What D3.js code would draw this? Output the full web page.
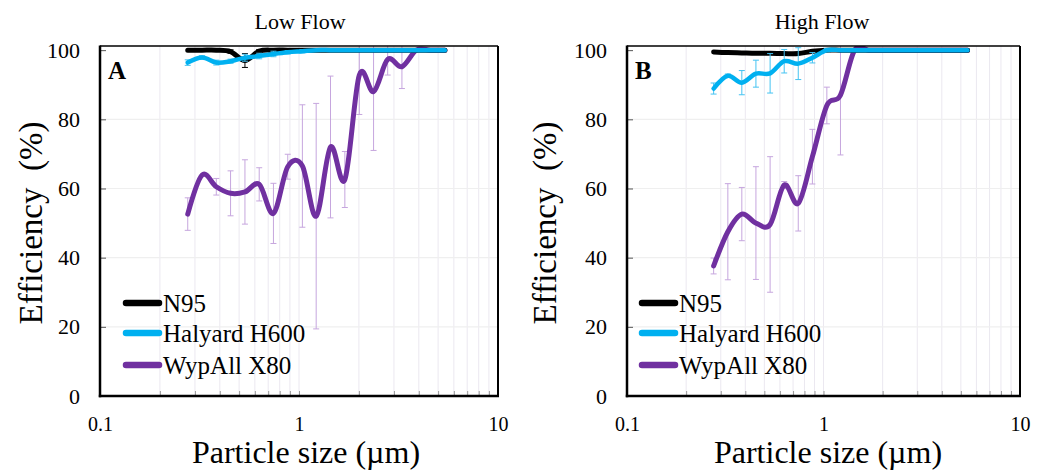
<!DOCTYPE html>
<html>
<head>
<meta charset="utf-8">
<script src="https://cdn.jsdelivr.net/npm/d3@7"></script>
<style>
  html, body { margin: 0; padding: 0; background: #fff; }
  svg, svg text { font-family: "Liberation Serif", "Times New Roman", "DejaVu Serif", serif; }
</style>
</head>
<body>
<svg id="chart" width="1046" height="470"></svg>
<script>
// ---------- DATA ----------
const sizes = [0.276, 0.326, 0.384, 0.453, 0.535, 0.631, 0.744, 0.878, 1.04, 1.22, 1.44, 1.70, 2.01, 2.37, 2.79, 3.29, 3.89, 4.58, 5.41];

const seriesNames = ["N95", "Halyard H600", "WypAll X80"];
const seriesColors = ["#000000", "#00B0F0", "#7030A0"];
const errColors = ["#000000", "#45C3F2", "#C6A6DE"];

// Low flow
const lowN95 = [100, 100, 100, 99.6, 97.0, 99.7, 100, 100, 100, 100, 100, 100, 100, 100, 100, 100, 100, 100, 100];
const lowN95Err = [0.3, 0.3, 0.3, 0.5, 2.0, 0.5, 0.2, 0, 0, 0, 0, 0, 0, 0, 0, 0, 0, 0, 0];
const lowH600 = [96.4, 97.9, 96.4, 96.8, 97.8, 98.3, 98.9, 99.4, 99.7, 100, 100, 100, 100, 100, 100, 100, 100, 100, 100];
const lowH600Err = [0.8, 0.5, 0.7, 0.6, 1.0, 0.8, 0.8, 0.5, 0.5, 0.3, 0, 0, 0, 0, 0, 0, 0, 0, 0];
const lowX80 = [52.6, 63.9, 60.5, 58.6, 59.0, 61.2, 52.8, 66.3, 66.5, 52.0, 72.0, 62.6, 92.8, 88.0, 97.3, 95.2, 100, 100, 100];
const lowX80Err = [4.7, 0, 2.4, 6.5, 9.3, 4.8, 8.7, 3.6, 17.7, 32.6, 20.5, 8.1, 11.4, 17.0, 4.5, 6.3, 0, 0, 0];

// High flow
const highN95 = [99.5, 99.3, 99.2, 99.1, 99.1, 99.0, 99.0, 99.7, 100, 100, 100, 100, 100, 100, 100, 100, 100, 100, 100];
const highN95Err = [0.3, 0.3, 0.3, 0.3, 0.3, 0.3, 0.3, 0.2, 0, 0, 0, 0, 0, 0, 0, 0, 0, 0, 0];
const highH600 = [88.9, 92.6, 90.6, 93.2, 93.3, 96.8, 96.1, 97.8, 100, 100, 100, 100, 100, 100, 100, 100, 100, 100, 100];
const highH600Err = [1.6, 0.5, 3.5, 3.9, 5.7, 3.4, 4.6, 1.5, 0.5, 0, 0, 0, 0, 0, 0, 0, 0, 0, 0];
const highX80 = [37.6, 47.5, 52.6, 50.0, 49.6, 61.0, 55.7, 69.2, 84.0, 87.0, 100, 100, 100, 100, 100, 100, 100, 100, 100];
const highX80Err = [2.3, 13.9, 7.7, 16.3, 19.6, 1.0, 8.0, 7.9, 5.3, 17.3, 0, 0, 0, 0, 0, 0, 0, 0, 0];

const xTicks = [0.1, 1, 10];
const xTickLabels = ["0.1", "1", "10"];
const xMinor = [0.2, 0.3, 0.4, 0.5, 0.6, 0.7, 0.8, 0.9, 1, 2, 3, 4, 5, 6, 7, 8, 9];
const yTicks = [0, 20, 40, 60, 80, 100];
const yGrid = [20, 40, 60, 80];

const panelTitles = ["Low Flow", "High Flow"];
const panelLetters = ["A", "B"];
const xTitle = "Particle size (\u00B5m)";
const yTitle = "Efficiency  (%)";

// ---------- LAYOUT ----------
const FONT = '"Liberation Serif", "Times New Roman", "DejaVu Serif", serif';
const panels = [
  { left: 100, right: 498, top: 46, bottom: 396, title: panelTitles[0], letter: panelLetters[0],
    series: [[lowN95, lowN95Err], [lowH600, lowH600Err], [lowX80, lowX80Err]],
    titleX: 300, xTitleX: 306, yTitleX: 31, legendX: 123 },
  { left: 627, right: 1020, top: 46, bottom: 396, title: panelTitles[1], letter: panelLetters[1],
    series: [[highN95, highN95Err], [highH600, highH600Err], [highX80, highX80Err]],
    titleX: 822, xTitleX: 828, yTitleX: 545, legendX: 639 }
];

const svg = d3.select("#chart");
const drawOrder = [2, 0, 1];
const lineWidths = [5, 4.5, 5];

panels.forEach((p, pi) => {
  const x = d3.scaleLog().domain([0.1, 10]).range([p.left, p.right]);
  const y = d3.scaleLinear().domain([0, 101.2]).range([p.bottom, p.top]);
  const g = svg.append("g").attr("font-family", FONT);

  const clipId = "clip" + pi;
  g.append("clipPath").attr("id", clipId).append("rect")
    .attr("x", p.left).attr("y", p.top).attr("width", p.right - p.left).attr("height", p.bottom - p.top);

  // gridlines
  g.append("g").selectAll("line").data(xMinor).join("line")
    .attr("x1", d => x(d)).attr("x2", d => x(d))
    .attr("y1", p.top).attr("y2", p.bottom)
    .attr("stroke", "#ebe8f0").attr("stroke-width", 1);
  g.append("g").selectAll("line").data(yGrid).join("line")
    .attr("x1", p.left).attr("x2", p.right)
    .attr("y1", d => y(d)).attr("y2", d => y(d))
    .attr("stroke", "#efefef").attr("stroke-width", 1.2);

  // axes
  const yAxis = d3.axisLeft(y).tickValues(yTicks).tickSize(-6).tickPadding(20).tickFormat(d3.format("d"));
  const ya = g.append("g").attr("transform", `translate(${p.left},0)`).call(yAxis);
  ya.attr("font-family", FONT);
  ya.select(".domain").remove();
  ya.selectAll("text").attr("font-size", 22).attr("fill", "#000");
  ya.selectAll("line").attr("stroke", "#555");

  const xAxisMinor = d3.axisBottom(x).tickValues(xMinor).tickSize(-5).tickFormat("");
  const xm = g.append("g").attr("transform", `translate(0,${p.bottom})`).call(xAxisMinor);
  xm.select(".domain").remove();
  xm.selectAll("line").attr("stroke", "#999");

  const xAxis = d3.axisBottom(x).tickValues(xTicks).tickSize(0).tickPadding(21)
    .tickFormat((d, i) => xTickLabels[i]);
  const xa = g.append("g").attr("transform", `translate(0,${p.bottom})`).call(xAxis);
  xa.attr("font-family", FONT);
  xa.select(".domain").remove();
  xa.selectAll("text").attr("font-size", 20).attr("fill", "#000");

  // series
  const plot = g.append("g").attr("clip-path", `url(#${clipId})`);
  drawOrder.forEach(si => {
    const vals = p.series[si][0];
    const errs = p.series[si][1];
    const pts = sizes.map((s, i) => ({ s, v: vals[i], e: errs[i] }));
    const eb = plot.append("g").attr("stroke", errColors[si]).attr("stroke-width", 1);
    const ePts = pts.filter(d => d.e >= 0.4);
    eb.selectAll("line.v").data(ePts).join("line").attr("class", "v")
      .attr("x1", d => x(d.s)).attr("x2", d => x(d.s))
      .attr("y1", d => y(d.v + d.e)).attr("y2", d => y(d.v - d.e));
    eb.selectAll("line.t").data(ePts).join("line").attr("class", "t")
      .attr("x1", d => x(d.s) - 3).attr("x2", d => x(d.s) + 3)
      .attr("y1", d => y(d.v + d.e)).attr("y2", d => y(d.v + d.e));
    eb.selectAll("line.b").data(ePts).join("line").attr("class", "b")
      .attr("x1", d => x(d.s) - 3).attr("x2", d => x(d.s) + 3)
      .attr("y1", d => y(d.v - d.e)).attr("y2", d => y(d.v - d.e));

    const line = d3.line().x(d => x(d.s)).y(d => y(d.v)).curve(d3.curveCardinal.tension(0));
    plot.append("path").datum(pts).attr("d", line)
      .attr("fill", "none").attr("stroke", seriesColors[si])
      .attr("stroke-width", lineWidths[si]).attr("stroke-linejoin", "round").attr("stroke-linecap", "round");
  });

  // frame
  g.append("line").attr("x1", p.left).attr("x2", p.right).attr("y1", p.top).attr("y2", p.top)
    .attr("stroke", "#000").attr("stroke-width", 1.3);
  g.append("line").attr("x1", p.right).attr("x2", p.right).attr("y1", p.top).attr("y2", p.bottom)
    .attr("stroke", "#000").attr("stroke-width", 2);
  g.append("line").attr("x1", p.left).attr("x2", p.left).attr("y1", p.top - 0.6).attr("y2", p.bottom + 1.2)
    .attr("stroke", "#000").attr("stroke-width", 2.5);
  g.append("line").attr("x1", p.left - 1.2).attr("x2", p.right + 1).attr("y1", p.bottom).attr("y2", p.bottom)
    .attr("stroke", "#000").attr("stroke-width", 2.5);

  // panel title
  g.append("text").attr("x", p.titleX).attr("y", 29).attr("text-anchor", "middle")
    .attr("font-size", 22).text(p.title);
  // panel letter
  g.append("text").attr("x", p.left + 8).attr("y", 79).attr("font-size", 25).attr("font-weight", "bold")
    .text(p.letter);

  // axis titles
  g.append("text").attr("x", p.xTitleX).attr("y", 463).attr("text-anchor", "middle")
    .attr("font-size", 32).text(xTitle);
  g.append("text").attr("transform", `translate(${p.yTitleX + 11},${(p.top + p.bottom) / 2 + 2}) rotate(-90)`)
    .attr("text-anchor", "middle").attr("font-size", 33).style("white-space", "pre").text(yTitle);

  // legend
  const legY = [303, 333, 365];
  seriesNames.forEach((name, si) => {
    g.append("line").attr("x1", p.legendX + 3).attr("x2", p.legendX + 36)
      .attr("y1", legY[si]).attr("y2", legY[si])
      .attr("stroke", seriesColors[si]).attr("stroke-width", 6.5).attr("stroke-linecap", "round");
    g.append("text").attr("x", p.legendX + 40).attr("y", legY[si] + 9)
      .attr("font-size", 25).text(name);
  });
});
</script>
</body>
</html>
